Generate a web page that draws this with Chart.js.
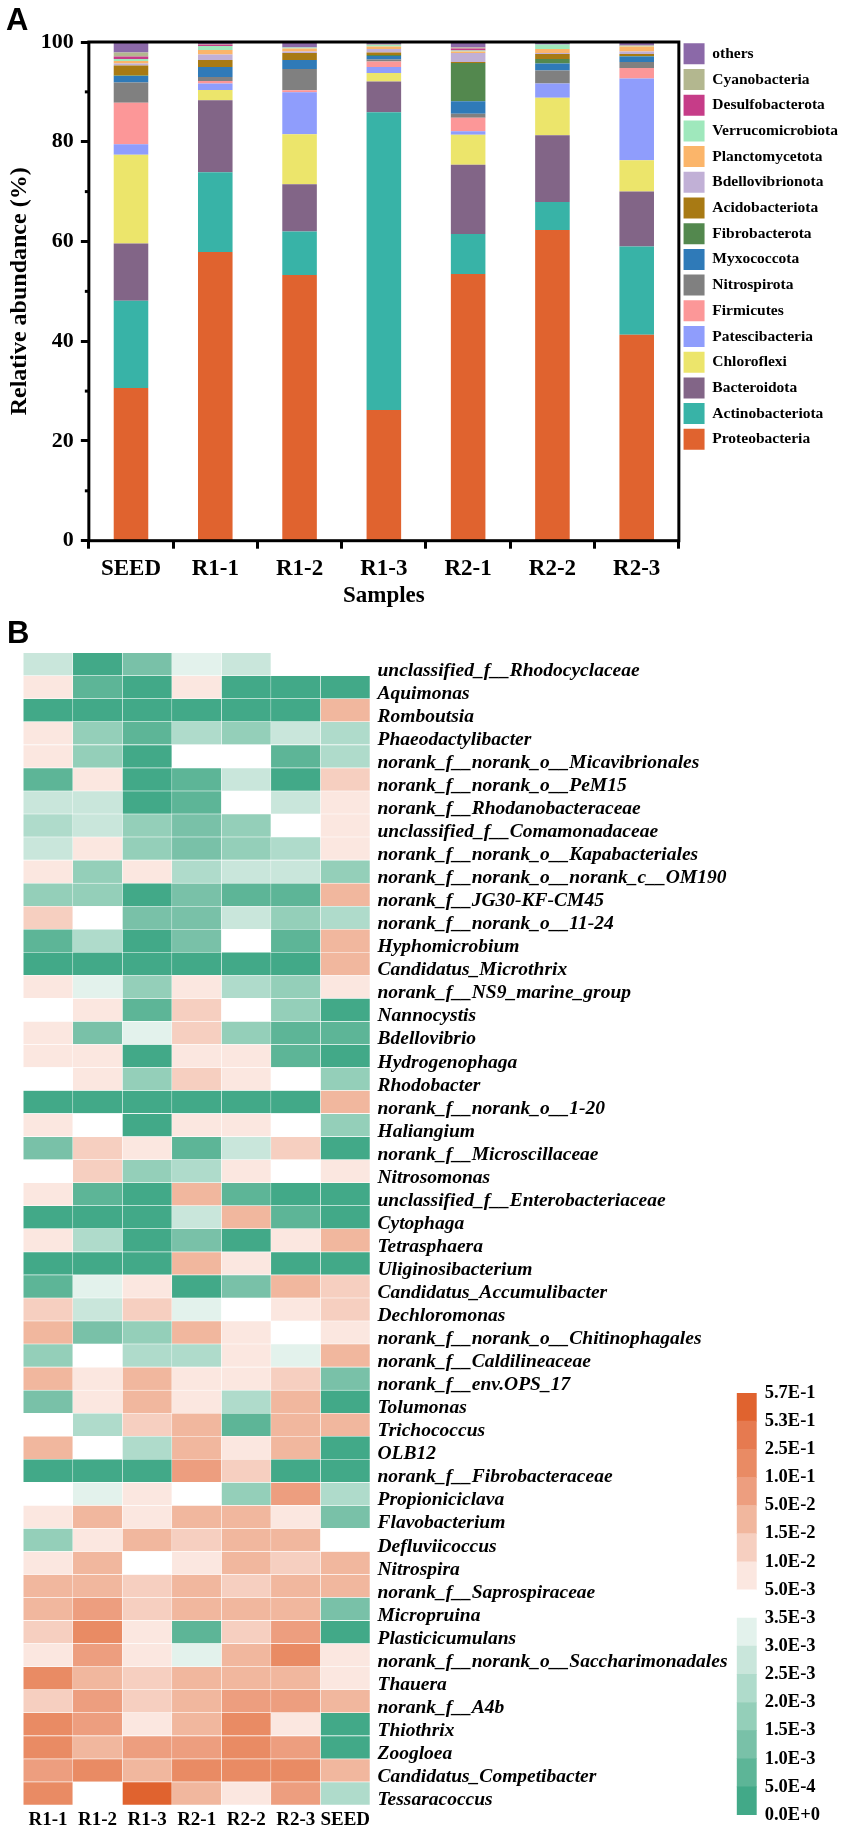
<!DOCTYPE html>
<html>
<head>
<meta charset="utf-8">
<title>Relative abundance and genus heatmap</title>
<script src="https://cdn.jsdelivr.net/npm/chart.js@4/dist/chart.umd.min.js"></script>
<style>
    html, body { margin: 0; padding: 0; background: #fff; }
    body { position: relative; width: 848px; height: 1833px; overflow: hidden; }
    canvas { position: absolute; display: block; }
    .panel { position: absolute; font: bold 31px "Liberation Sans", sans-serif; color: #000; line-height: 1; }
</style>
</head>
<body>
<canvas id="barChart" width="848" height="620" style="left:0px;top:0px"></canvas>
<canvas id="heatChart" width="848" height="1213" style="left:0px;top:620px"></canvas>
<canvas id="keyChart" width="112" height="453" style="left:736px;top:1380px"></canvas>
<div class="panel" style="left:6px;top:4px">A</div>
<div class="panel" style="left:7px;top:617px">B</div>
<script>
// Panel A - phylum abundance (%), bottom of the stack first
var samples = ['SEED', 'R1-1', 'R1-2', 'R1-3', 'R2-1', 'R2-2', 'R2-3'];
var proteobacteria = [30.6, 57.9, 53.3, 26.2, 53.5, 62.3, 41.3];
var actinobacteriota = [17.5, 16.0, 8.7, 59.7, 8.0, 5.6, 17.7];
var bacteroidota = [11.5, 14.4, 9.5, 6.2, 13.9, 13.4, 11.0];
var chloroflexi = [17.8, 2.1, 10.0, 1.7, 6.0, 7.5, 6.3];
var patescibacteria = [2.1, 1.3, 8.4, 1.2, 0.7, 2.9, 16.4];
var firmicutes = [8.3, 0.5, 0.4, 1.1, 2.7, 0, 2.1];
var nitrospirota = [4.1, 0.8, 4.3, 0.4, 0.8, 2.6, 1.2];
var myxococcota = [1.3, 2.0, 1.8, 0.7, 2.5, 1.4, 1.1];
var fibrobacterota = [0.1, 0, 0, 0.2, 7.7, 0.9, 0.1];
var acidobacteriota = [2.0, 1.4, 1.4, 0.5, 0.2, 1.0, 0.4];
var bdellovibrionota = [0.4, 1.1, 0.3, 0.7, 1.8, 0.2, 0.5];
var planctomycetota = [0.5, 0.9, 0.6, 0.5, 0.3, 0.8, 1.0];
var verrucomicrobiota = [0.4, 0.8, 0.2, 0.3, 0.2, 0.9, 0.1];
var desulfobacterota = [0.5, 0.3, 0, 0, 0.4, 0, 0];
var cyanobacteria = [0.8, 0.1, 0, 0.1, 0.2, 0, 0.1];
var others = [2.1, 0.4, 1.1, 0.5, 1.1, 0.5, 0.7];

var phyla = ['Proteobacteria', 'Actinobacteriota', 'Bacteroidota', 'Chloroflexi', 'Patescibacteria', 'Firmicutes',
    'Nitrospirota', 'Myxococcota', 'Fibrobacterota', 'Acidobacteriota', 'Bdellovibrionota', 'Planctomycetota',
    'Verrucomicrobiota', 'Desulfobacterota', 'Cyanobacteria', 'others'];
var phylumValues = [proteobacteria, actinobacteriota, bacteroidota, chloroflexi, patescibacteria, firmicutes,
    nitrospirota, myxococcota, fibrobacterota, acidobacteriota, bdellovibrionota, planctomycetota,
    verrucomicrobiota, desulfobacterota, cyanobacteria, others];
var phylumColors = ['#E0632F', '#38B3A7', '#826587', '#ECE56B', '#8F9DFC', '#FC9798',
    '#808080', '#2F7AB8', '#53884E', '#A87A14', '#C1B0D6', '#FBB56A',
    '#9FE8BC', '#C63C88', '#B3B78F', '#8B69A8'];
var minorTicks = [10, 30, 50, 70, 90];

// Panel B - genus names, top row first
var genera = ['unclassified_f__Rhodocyclaceae', 'Aquimonas', 'Romboutsia', 'Phaeodactylibacter',
    'norank_f__norank_o__Micavibrionales', 'norank_f__norank_o__PeM15', 'norank_f__Rhodanobacteraceae',
    'unclassified_f__Comamonadaceae', 'norank_f__norank_o__Kapabacteriales', 'norank_f__norank_o__norank_c__OM190',
    'norank_f__JG30-KF-CM45', 'norank_f__norank_o__11-24', 'Hyphomicrobium', 'Candidatus_Microthrix',
    'norank_f__NS9_marine_group', 'Nannocystis', 'Bdellovibrio', 'Hydrogenophaga', 'Rhodobacter',
    'norank_f__norank_o__1-20', 'Haliangium', 'norank_f__Microscillaceae', 'Nitrosomonas',
    'unclassified_f__Enterobacteriaceae', 'Cytophaga', 'Tetrasphaera', 'Uliginosibacterium',
    'Candidatus_Accumulibacter', 'Dechloromonas', 'norank_f__norank_o__Chitinophagales', 'norank_f__Caldilineaceae',
    'norank_f__env.OPS_17', 'Tolumonas', 'Trichococcus', 'OLB12', 'norank_f__Fibrobacteraceae', 'Propioniciclava',
    'Flavobacterium', 'Defluviicoccus', 'Nitrospira', 'norank_f__Saprospiraceae', 'Micropruina', 'Plasticicumulans',
    'norank_f__norank_o__Saccharimonadales', 'Thauera', 'norank_f__A4b', 'Thiothrix', 'Zoogloea',
    'Candidatus_Competibacter', 'Tessaracoccus'];

// Heatmap cells: index of the colour key bin each cell falls in (0 = 0.0E+0 to 5.0E-4)
var heatSamples = ['R1-1', 'R1-2', 'R1-3', 'R2-1', 'R2-2', 'R2-3', 'SEED'];
var binsR11 = [5,8,0,8,8,1,5,4,5,8, 3,9,1,0,8,7,8,8,7,0, 8,2,7,8,0,8,0,1,9,10, 3,10,2,7,10,0,7,8,3,8, 10,10,9,8,12,9,12,12,11,12];
var binsR12 = [0,1,0,3,3,8,5,5,8,3, 3,7,4,0,6,8,2,8,8,0, 7,9,9,1,0,4,0,6,5,2, 7,8,8,4,7,0,6,10,8,10, 10,11,12,11,10,11,11,10,12,7];
var binsR13 = [2,0,0,1,0,0,0,3,3,8, 0,2,0,0,3,1,6,0,3,0, 0,8,3,0,0,0,0,8,9,3, 4,10,10,9,4,0,8,8,10,7, 9,9,8,8,9,9,8,11,10,14];
var binsR21 = [6,8,0,4,7,1,1,2,2,4, 2,2,2,0,8,9,9,8,9,0, 8,1,4,10,5,2,10,0,6,10, 4,8,8,10,10,11,7,10,9,8, 10,10,1,6,10,10,10,11,12,10];
var binsR22 = [5,0,0,3,7,5,7,3,3,5, 1,5,7,0,4,7,3,8,8,0, 8,5,8,1,10,0,8,2,7,8, 8,8,4,1,8,9,3,10,10,10, 9,10,9,10,10,11,12,12,12,8];
var binsR23 = [7,0,0,5,1,0,5,7,4,5, 1,3,1,0,3,3,1,1,7,0, 7,9,7,0,1,8,0,10,8,7, 6,9,10,10,10,0,11,8,10,9, 10,10,11,12,10,11,8,11,12,11];
var binsSeed = [7,0,10,4,4,9,8,8,8,3, 10,4,10,10,8,0,1,0,3,10, 3,0,8,0,0,10,0,9,9,8, 10,2,0,10,0,0,4,2,7,10, 10,2,0,8,8,10,0,0,10,4];
var heatBins = [binsR11, binsR12, binsR13, binsR21, binsR22, binsR23, binsSeed];

// Colour key, lowest bin first
var keyTicks = ['0.0E+0', '5.0E-4', '1.0E-3', '1.5E-3', '2.0E-3', '2.5E-3', '3.0E-3', '3.5E-3',
    '5.0E-3', '1.0E-2', '1.5E-2', '5.0E-2', '1.0E-1', '2.5E-1', '5.3E-1', '5.7E-1'];
var binColors = ['#42A988', '#5DB597', '#79C1A8', '#94CFB9', '#AFDBCB', '#C9E6DB', '#E3F2EC', '#FFFFFF',
    '#FBE7E0', '#F6CFC0', '#F1B79E', '#ED9E7F', '#E98B64', '#E67A50', '#E0632F'];

var serif = '"Liberation Serif", "Times New Roman", serif';
Chart.defaults.font.family = serif;
Chart.defaults.color = '#000';
Chart.defaults.animation = false;
Chart.defaults.plugins.tooltip.enabled = false;

// Black frame round the plot and the short unlabelled ticks on the y axis
var framePlugin = {
    id: 'frame',
    afterDatasetsDraw: function (chart) {
        var ctx = chart.ctx;
        var area = chart.chartArea;
        ctx.save();
        ctx.strokeStyle = '#000';
        ctx.lineWidth = 3;
        ctx.strokeRect(area.left, area.top, area.right - area.left, area.bottom - area.top);
        minorTicks.forEach(function (v) {
            var y = chart.scales.y.getPixelForValue(v);
            ctx.beginPath();
            ctx.moveTo(area.left - 4, y);
            ctx.lineTo(area.left, y);
            ctx.stroke();
        });
        ctx.restore();
    }
};

new Chart(document.getElementById('barChart'), {
    type: 'bar',
    data: {
        labels: samples,
        datasets: phyla.map(function (name, i) {
            return {
                label: name,
                data: phylumValues[i],
                backgroundColor: phylumColors[i],
                borderWidth: 0,
                barPercentage: 0.41,
                categoryPercentage: 1
            };
        })
    },
    plugins: [framePlugin],
    options: {
        responsive: false,
        layout: { padding: { top: 38.6, left: 0, right: 0, bottom: 10 } },
        plugins: {
            legend: {
                position: 'right',
                align: 'start',
                reverse: true,
                labels: {
                    boxWidth: 21,
                    boxHeight: 21,
                    padding: 4.7,
                    color: '#000',
                    font: { size: 15.5, weight: 'bold' }
                }
            }
        },
        scales: {
            x: {
                stacked: true,
                grid: { drawOnChartArea: false, tickLength: 8, tickWidth: 3, tickColor: '#000' },
                border: { display: false },
                ticks: { font: { size: 23, weight: 'bold' }, padding: 7, maxRotation: 0 },
                title: { display: true, text: 'Samples', font: { size: 23, weight: 'bold' }, padding: { top: 0, bottom: 0 } },
                afterFit: function (scale) { scale.height = 69.3; }
            },
            // thin spacer so the legend can start a little above the plot
            topGap: {
                type: 'category',
                position: 'top',
                axis: 'x',
                grid: { display: false },
                border: { display: false },
                ticks: { display: false },
                afterFit: function (scale) { scale.height = 3.4; }
            },
            y: {
                stacked: true,
                min: 0,
                max: 100,
                grid: { drawOnChartArea: false, tickLength: 8, tickWidth: 3, tickColor: '#000' },
                border: { display: false },
                ticks: { stepSize: 20, font: { size: 22, weight: 'bold' }, padding: 7 },
                title: { display: true, text: 'Relative abundance (%)', font: { size: 24, weight: 'bold' }, padding: { top: 5, bottom: 0 } },
                afterFit: function (scale) { scale.width = 88.85; }
            }
        }
    }
});

// Heatmap: one stacked horizontal bar per row, one segment per sample
new Chart(document.getElementById('heatChart'), {
    type: 'bar',
    data: {
        labels: genera,
        datasets: heatSamples.map(function (name, i) {
            return {
                label: name,
                data: genera.map(function () { return 1; }),
                backgroundColor: heatBins[i].map(function (b) { return binColors[b]; }),
                borderColor: '#fff',
                borderWidth: 0.6,
                barPercentage: 1,
                categoryPercentage: 1
            };
        })
    },
    options: {
        indexAxis: 'y',
        responsive: false,
        layout: { padding: { top: 32.7, left: 23.3, right: 0, bottom: 0 } },
        plugins: { legend: { display: false } },
        scales: {
            x: { stacked: true, min: 0, max: 7, display: false },
            sampleAxis: {
                type: 'category',
                axis: 'x',
                position: 'bottom',
                labels: heatSamples,
                offset: true,
                grid: { display: false, drawTicks: false },
                border: { display: false },
                ticks: { font: { size: 19, weight: 'bold' }, padding: 4, maxRotation: 0, autoSkip: false },
                afterFit: function (scale) { scale.height = 28; }
            },
            y: {
                stacked: true,
                position: 'right',
                grid: { display: false, drawTicks: false },
                border: { display: false },
                ticks: { font: { size: 19.5, weight: 'bold', style: 'italic' }, padding: 7.5, labelOffset: 6.5, autoSkip: false },
                afterFit: function (scale) { scale.width = 478; }
            }
        }
    }
});

// Colour key: a single stacked column with one segment per bin
new Chart(document.getElementById('keyChart'), {
    type: 'bar',
    data: {
        labels: [''],
        datasets: binColors.map(function (color) {
            return { data: [1], backgroundColor: color, borderWidth: 0, barPercentage: 1, categoryPercentage: 1 };
        })
    },
    options: {
        responsive: false,
        layout: { padding: { top: 13, left: 0.7, right: 0, bottom: 18 } },
        plugins: { legend: { display: false } },
        scales: {
            x: { stacked: true, display: false },
            y: {
                stacked: true,
                position: 'right',
                min: 0,
                max: keyTicks.length - 1,
                grid: { display: false, drawTicks: false },
                border: { display: false },
                ticks: {
                    stepSize: 1,
                    autoSkip: false,
                    padding: 8,
                    font: { size: 18.5, weight: 'bold' },
                    callback: function (v) { return keyTicks[v]; }
                },
                afterFit: function (scale) {
                    scale.width = 91.3;
                    scale.paddingTop = 0;
                    scale.paddingBottom = 0;
                }
            }
        }
    }
});
</script>
</body>
</html>
